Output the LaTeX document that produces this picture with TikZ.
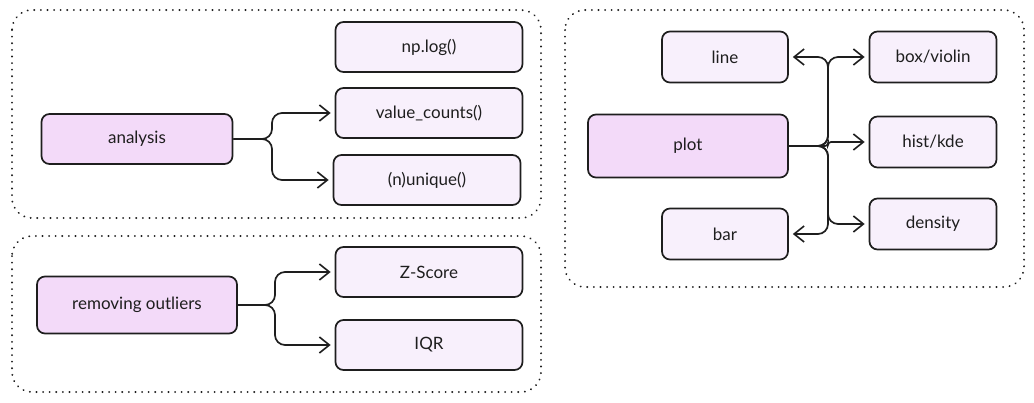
\documentclass[tikz,border=0pt]{standalone}
\usepackage{fontspec}
\setmainfont{Lato}
\usetikzlibrary{arrows.meta}
\definecolor{ink}{HTML}{1E1E1E}
\definecolor{mainfill}{HTML}{F3DAF9}
\definecolor{leaffill}{HTML}{F8F0FC}
\tikzset{
  boxbase/.style={draw=ink, line width=1.7pt, rounded corners=8pt, font=\fontsize{17}{20}\selectfont, text=ink, inner sep=0pt},
  mainbox/.style={boxbase, fill=mainfill},
  leafbox/.style={boxbase, fill=leaffill},
  group/.style={draw=ink, line width=2pt, dash pattern=on 0.1pt off 6.5pt, line cap=round, rounded corners=20pt},
  conn/.style={draw=ink, line width=1.7pt, rounded corners=10pt, -{Straight Barb[length=10pt,width=16pt,line width=1.6pt]}, shorten >=4pt}
}
\begin{document}
\begin{tikzpicture}[x=1pt,y=-1pt]
\useasboundingbox (0,0) rectangle (1034,402);
% groups
\draw[group] (12,10) rectangle (541,218);
\draw[group] (12,236) rectangle (541,392);
\draw[group] (565,10) rectangle (1024,287);
% top-left
\node[mainbox, minimum width=191pt, minimum height=50pt] (analysis) at (137,139) {analysis};
\node[leafbox, minimum width=187pt, minimum height=50pt] (nplog) at (429,47) {np.log()};
\node[leafbox, minimum width=187pt, minimum height=50pt] (vc) at (429,113) {value\_counts()};
\node[leafbox, minimum width=187pt, minimum height=50pt] (nuniq) at (427,180) {(n)unique()};
\coordinate (ab) at (272,139);
\draw[conn] (analysis.east) -- (ab) |- (vc.west);
\draw[conn] (analysis.east) -- (ab) |- (nuniq.west);
% bottom-left
\node[mainbox, minimum width=200pt, minimum height=57pt] (rem) at (137,305) {removing outliers};
\node[leafbox, minimum width=187pt, minimum height=50pt] (zs) at (429,272) {Z-Score};
\node[leafbox, minimum width=187pt, minimum height=50pt] (iqr) at (429,345) {IQR};
\coordinate (rb) at (275,305);
\draw[conn] (rem.east) -- (rb) |- (zs.west);
\draw[conn] (rem.east) -- (rb) |- (iqr.west);
% right
\node[mainbox, minimum width=200pt, minimum height=63pt] (plot) at (688,146) {plot};
\node[leafbox, minimum width=126pt, minimum height=51pt] (line) at (725,57) {line};
\node[leafbox, minimum width=126pt, minimum height=51pt] (bar) at (725,234) {bar};
\node[leafbox, minimum width=127pt, minimum height=51pt] (boxv) at (933,57) {box/violin};
\node[leafbox, minimum width=127pt, minimum height=51pt] (hist) at (933,142) {hist/kde};
\node[leafbox, minimum width=127pt, minimum height=51pt] (dens) at (933,224) {density};
\coordinate (pb) at (828,146);
\draw[conn] (plot.east) -- (pb) |- (line.east);
\draw[conn] (plot.east) -- (pb) |- (bar.east);
\draw[conn] (plot.east) -- (pb) |- (boxv.west);
\draw[conn, rounded corners=3pt] (plot.east) -- (pb) |- (hist.west);
\draw[conn] (plot.east) -- (pb) |- (dens.west);
\end{tikzpicture}
\end{document}
